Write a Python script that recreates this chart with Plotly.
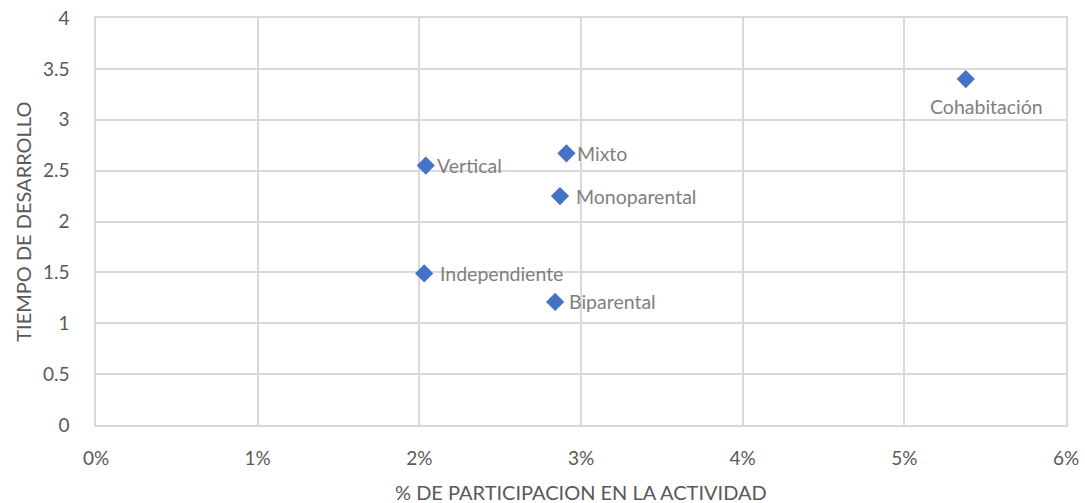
import plotly.graph_objects as go

# datos
tipos = ["Cohabitación", "Mixto", "Vertical", "Monoparental", "Independiente", "Biparental"]
participacion = [0.0538, 0.0291, 0.0204, 0.0287, 0.0203, 0.0284]
tiempo = [3.40, 2.67, 2.55, 2.25, 1.49, 1.21]

# desplazamiento de etiquetas (px)
offsets = {"Cohabitación": (21, -27, "center"), "Mixto": (9, 0, "left"),
           "Vertical": (9, 0, "left"), "Monoparental": (14, 0, "left"),
           "Independiente": (14, 0, "left"), "Biparental": (12, 0, "left")}

FONT = "Lato, Open Sans, sans-serif"
GRID = "#d9d9d9"
TXT = "#595959"

fig = go.Figure()
fig.add_trace(go.Scatter(x=participacion, y=tiempo, mode="markers",
                         marker=dict(symbol="diamond", size=14, color="#4472C4"),
                         hoverinfo="x+y+text", text=tipos, showlegend=False))

for t, xv, yv in zip(tipos, participacion, tiempo):
    dx, dy, anchor = offsets[t]
    fig.add_annotation(x=xv, y=yv, text=t, showarrow=False, xanchor=anchor,
                       yanchor="middle", xshift=dx, yshift=dy,
                       font=dict(family=FONT, size=19.5, color="#7f7f7f"))

# titulos de ejes
fig.add_annotation(text="% DE PARTICIPACION EN LA ACTIVIDAD", xref="paper", yref="paper",
                   x=0.5, y=-0.165, yanchor="middle", showarrow=False,
                   font=dict(family=FONT, size=20, color=TXT))
fig.add_annotation(text="TIEMPO DE DESARROLLO", xref="paper", yref="paper",
                   x=-0.076, y=0.5, xanchor="center", yanchor="middle", textangle=-90,
                   showarrow=False, font=dict(family=FONT, size=20, color=TXT))

fig.update_layout(
    width=1085, height=503,
    margin=dict(l=96, r=19, t=18, b=78),
    plot_bgcolor="white", paper_bgcolor="white",
    font=dict(family=FONT, size=19, color=TXT),
)
fig.update_xaxes(range=[0, 0.06], dtick=0.01, tickformat=".0%", automargin=False,
                 showgrid=True, gridcolor=GRID, gridwidth=1.5, zeroline=False,
                 showline=True, mirror=True, linecolor=GRID, linewidth=1.5,
                 ticks="", ticklabelstandoff=15, ticklabeloverflow="allow")
fig.update_yaxes(range=[0, 4], dtick=0.5, automargin=False, showgrid=True,
                 gridcolor=GRID, gridwidth=1.5, zeroline=False,
                 showline=True, mirror=True, linecolor=GRID, linewidth=1.5,
                 ticks="", ticklabelstandoff=21, ticklabeloverflow="allow")

# sin margen en body para que la figura ocupe la ventana
fig.write_html("out.html", config={"displayModeBar": False},
               post_script="document.body.style.margin='0';")
